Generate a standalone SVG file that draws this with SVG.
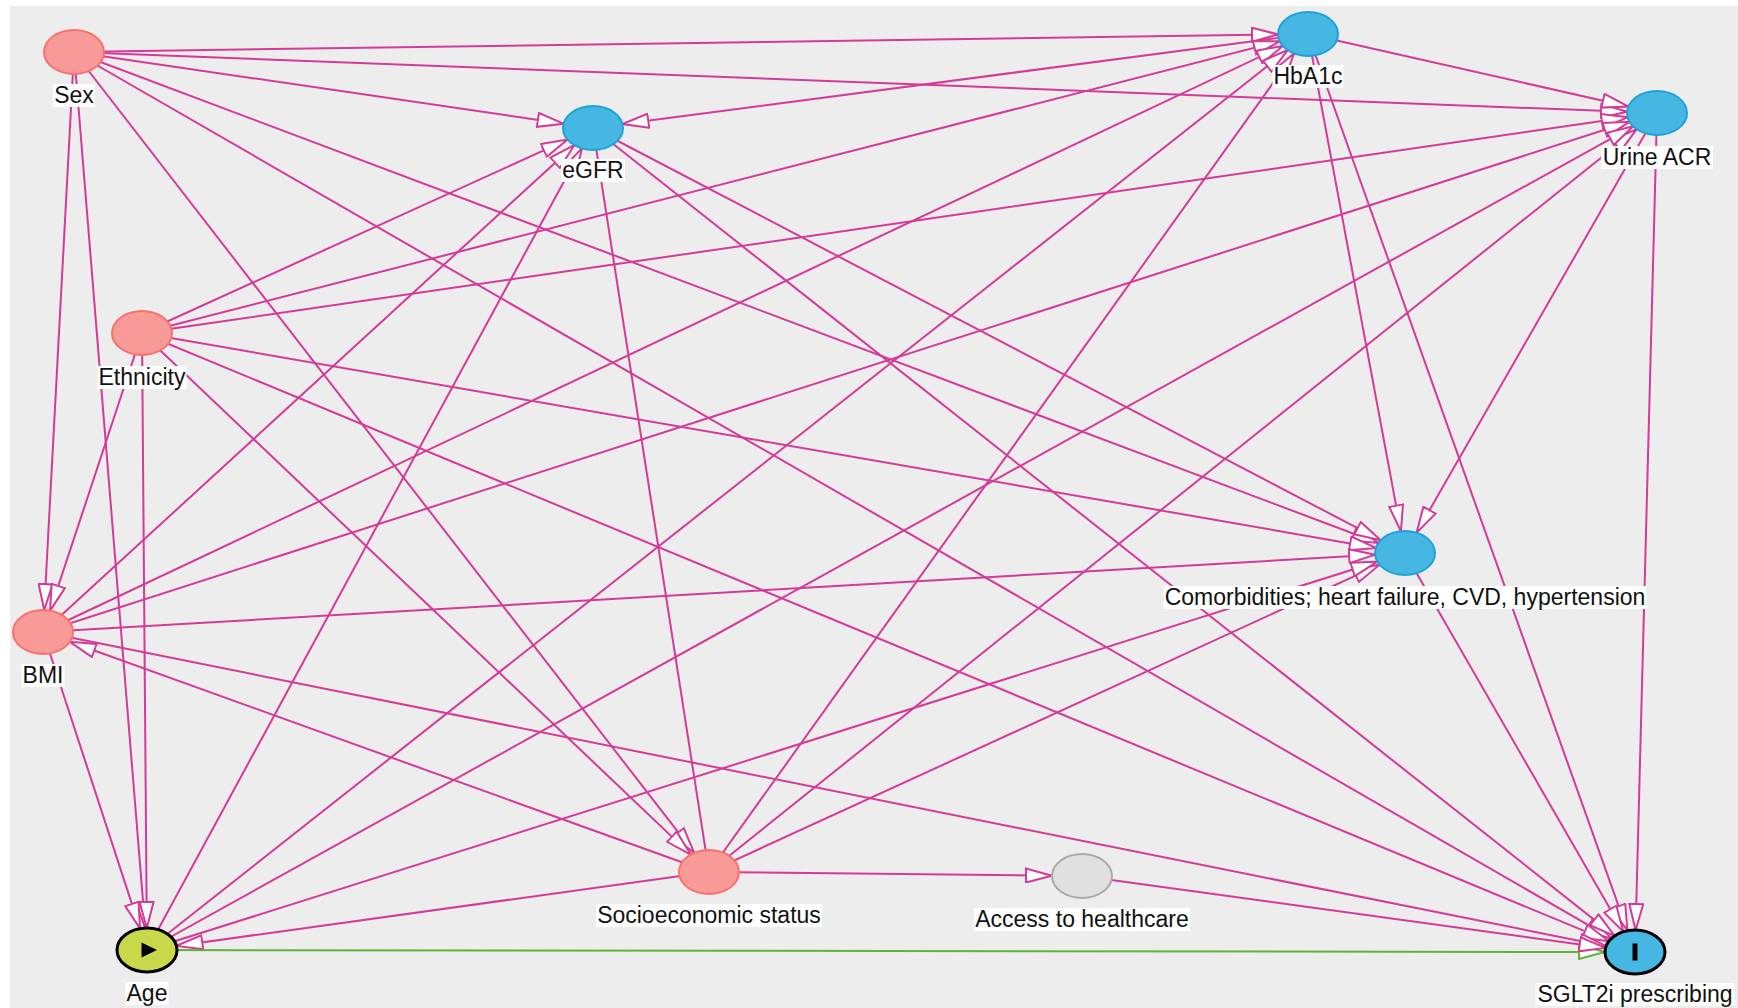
<svg xmlns="http://www.w3.org/2000/svg" width="1738" height="1008" viewBox="0 0 1738 1008">
<defs>
<style>
.e{stroke:#d43a98;stroke-width:2;fill:none;marker-end:url(#ah)}
.n{stroke:#d43a98;stroke-width:2;fill:none}
.g{stroke:#5cb33a;stroke-width:2;fill:none;marker-end:url(#ahg)}
.pink{fill:#f89a97;stroke:#f7726d;stroke-width:2}
.blue{fill:#46b6e3;stroke:#1ea2da;stroke-width:2}
.grey{fill:#e0e0e0;stroke:#a9a9a9;stroke-width:2}
.exp{fill:#c9d84a;stroke:#000;stroke-width:3}
.out{fill:#46b6e3;stroke:#000;stroke-width:3}
.lb{fill:#fff}
.t{font-family:"Liberation Sans",Arial,sans-serif;font-size:23px;fill:#111;text-anchor:middle}
</style>
<marker id="ah" viewBox="0 0 28 16" refX="27" refY="8" markerWidth="28" markerHeight="16" markerUnits="userSpaceOnUse" orient="auto"><path d="M1,1 L27,8 L1,15 Z" fill="#fff" stroke="#d43a98" stroke-width="2"/></marker>
<marker id="ahg" viewBox="0 0 28 16" refX="27" refY="8" markerWidth="28" markerHeight="16" markerUnits="userSpaceOnUse" orient="auto"><path d="M1,1 L27,8 L1,15 Z" fill="#fff" stroke="#5cb33a" stroke-width="2"/></marker>
</defs>
<rect x="0" y="0" width="1738" height="1008" fill="#fff"/>
<rect x="10" y="6" width="1728" height="1002" fill="#ededed"/>
<g id="edges">
<line class="e" x1="74" y1="52" x2="1278.0" y2="34.4"/>
<line class="e" x1="74" y1="52" x2="1627.0" y2="111.8"/>
<line class="e" x1="74" y1="52" x2="563.6" y2="123.7"/>
<line class="e" x1="74" y1="52" x2="1378.3" y2="543.0"/>
<line class="e" x1="74" y1="52" x2="1611.4" y2="938.4"/>
<line class="e" x1="74" y1="52" x2="694.2" y2="852.9"/>
<line class="e" x1="74" y1="52" x2="44.2" y2="610.0"/>
<line class="e" x1="74" y1="52" x2="145.2" y2="928.0"/>
<line class="e" x1="142" y1="333" x2="567.5" y2="139.6"/>
<line class="e" x1="142" y1="333" x2="1279.7" y2="41.3"/>
<line class="e" x1="142" y1="333" x2="1627.6" y2="117.3"/>
<line class="e" x1="142" y1="333" x2="1375.8" y2="547.9"/>
<line class="e" x1="142" y1="333" x2="1608.9" y2="941.2"/>
<line class="e" x1="142" y1="333" x2="690.7" y2="854.6"/>
<line class="e" x1="142" y1="333" x2="50.1" y2="610.6"/>
<line class="e" x1="142" y1="333" x2="146.8" y2="928.0"/>
<line class="e" x1="43" y1="632" x2="574.3" y2="145.2"/>
<line class="e" x1="43" y1="632" x2="1282.8" y2="45.9"/>
<line class="e" x1="43" y1="632" x2="1629.5" y2="121.8"/>
<line class="e" x1="43" y1="632" x2="1375.1" y2="554.7"/>
<line class="e" x1="43" y1="632" x2="1606.1" y2="946.2"/>
<line class="e" x1="43" y1="632" x2="140.0" y2="928.6"/>
<line class="e" x1="709" y1="872" x2="69.9" y2="641.7"/>
<line class="e" x1="709" y1="872" x2="176.5" y2="945.9"/>
<line class="e" x1="709" y1="872" x2="1294.1" y2="53.5"/>
<line class="e" x1="709" y1="872" x2="1636.7" y2="129.2"/>
<line class="e" x1="709" y1="872" x2="1379.6" y2="564.7"/>
<line class="e" x1="709" y1="872" x2="1052.0" y2="875.7"/>
<line class="n" x1="593" y1="128" x2="709" y2="872"/>
<line class="e" x1="147" y1="950" x2="581.9" y2="148.4"/>
<line class="e" x1="147" y1="950" x2="1287.6" y2="50.1"/>
<line class="e" x1="147" y1="950" x2="1633.1" y2="126.3"/>
<line class="e" x1="147" y1="950" x2="1377.4" y2="561.7"/>
<line class="g" x1="147" y1="950" x2="1605.0" y2="952.0"/>
<line class="e" x1="593" y1="128" x2="1380.6" y2="540.2"/>
<line class="e" x1="593" y1="128" x2="1614.6" y2="935.9"/>
<line class="e" x1="1308" y1="34" x2="622.5" y2="124.1"/>
<line class="e" x1="1308" y1="34" x2="1628.3" y2="106.5"/>
<line class="e" x1="1308" y1="34" x2="1400.9" y2="531.2"/>
<line class="e" x1="1308" y1="34" x2="1627.4" y2="930.7"/>
<line class="e" x1="1657" y1="113" x2="1416.6" y2="532.7"/>
<line class="e" x1="1657" y1="113" x2="1635.6" y2="930.0"/>
<line class="e" x1="1405" y1="553" x2="1623.3" y2="931.7"/>
<line class="e" x1="1082" y1="876" x2="1605.5" y2="947.9"/>
</g>
<g id="node-sex"><ellipse class="pink" cx="74" cy="52" rx="30" ry="22"/><rect class="lb" x="53" y="84" width="42" height="23"/><text class="t" x="74" y="103">Sex</text></g>
<g id="node-egfr"><ellipse class="blue" cx="593" cy="128" rx="30" ry="22"/><rect class="lb" x="561" y="159" width="64" height="23"/><text class="t" x="593" y="178">eGFR</text></g>
<g id="node-hba1c"><ellipse class="blue" cx="1308" cy="34" rx="30" ry="22"/><rect class="lb" x="1272.5" y="65" width="71" height="23"/><text class="t" x="1308" y="84">HbA1c</text></g>
<g id="node-urineacr"><ellipse class="blue" cx="1657" cy="113" rx="30" ry="22"/><rect class="lb" x="1601" y="146" width="112" height="23"/><text class="t" x="1657" y="165">Urine ACR</text></g>
<g id="node-ethnicity"><ellipse class="pink" cx="142" cy="333" rx="30" ry="22"/><rect class="lb" x="97.5" y="366" width="89" height="23"/><text class="t" x="142" y="385">Ethnicity</text></g>
<g id="node-bmi"><ellipse class="pink" cx="43" cy="632" rx="30" ry="22"/><rect class="lb" x="21.5" y="664" width="43" height="23"/><text class="t" x="43" y="683">BMI</text></g>
<g id="node-comorbidities"><ellipse class="blue" cx="1405" cy="553" rx="30" ry="22"/><rect class="lb" x="1163.5" y="586" width="483" height="23"/><text class="t" x="1405" y="605">Comorbidities; heart failure, CVD, hypertension</text></g>
<g id="node-ses"><ellipse class="pink" cx="709" cy="872" rx="30" ry="22"/><rect class="lb" x="596" y="904" width="226" height="23"/><text class="t" x="709" y="923">Socioeconomic status</text></g>
<g id="node-access"><ellipse class="grey" cx="1082" cy="876" rx="30" ry="22"/><rect class="lb" x="974" y="908" width="216" height="23"/><text class="t" x="1082" y="927">Access to healthcare</text></g>
<g id="node-age"><ellipse class="exp" cx="147" cy="950" rx="30" ry="22"/><path d="M141.5,942.5 L157,950 L141.5,957.5 Z" fill="#000"/><rect class="lb" x="125.5" y="982" width="43" height="23"/><text class="t" x="147" y="1001">Age</text></g>
<g id="node-sglt2i"><ellipse class="out" cx="1635" cy="952" rx="30" ry="22"/><rect x="1632.5" y="943.5" width="5" height="17" fill="#000"/><rect class="lb" x="1535.5" y="983" width="199" height="23"/><text class="t" x="1635" y="1002">SGLT2i prescribing</text></g>
</svg>
